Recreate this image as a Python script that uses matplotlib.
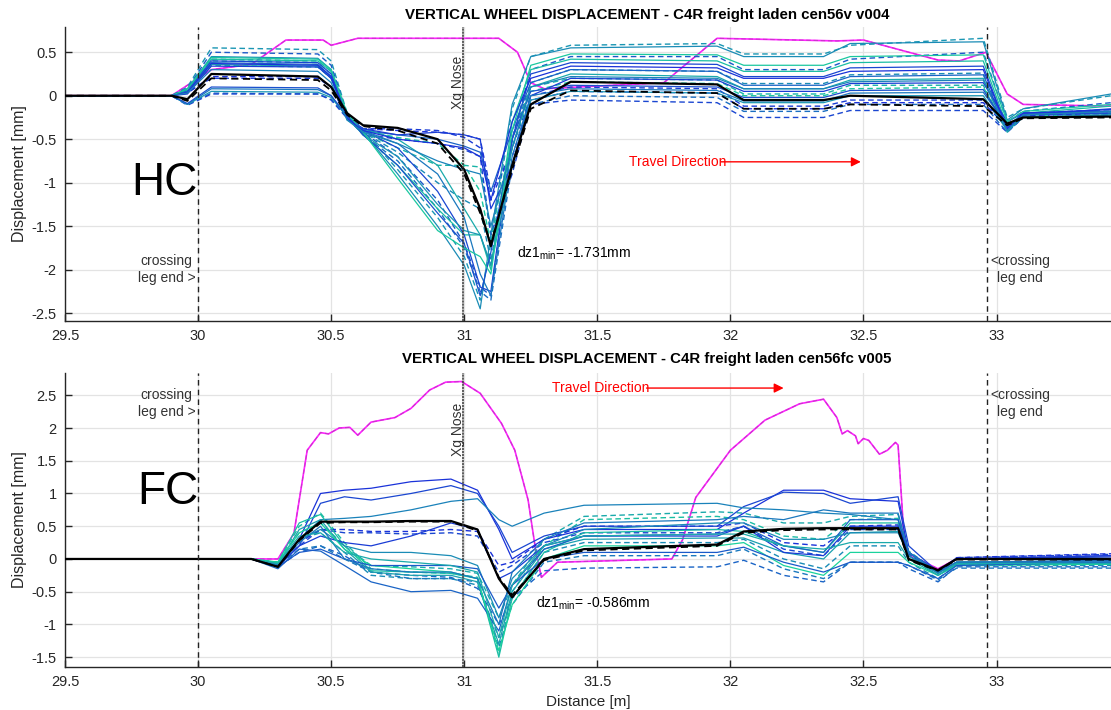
import matplotlib
matplotlib.use('Agg')
import matplotlib.pyplot as plt
from matplotlib.ticker import FuncFormatter

plt.rcParams['font.family'] = ['Liberation Sans', 'DejaVu Sans']
plt.rcParams['axes.unicode_minus'] = False
plt.rcParams['mathtext.fontset'] = 'custom'
plt.rcParams['mathtext.rm'] = 'Liberation Sans'
plt.rcParams['mathtext.it'] = 'Liberation Sans'
plt.rcParams['mathtext.default'] = 'regular'

# ------------------------------------------------------------------ HC panel
X_HC = [29.5, 29.9, 29.96, 30.05, 30.45, 30.5, 30.56, 30.62, 30.75, 30.9, 31.0, 31.06,
        31.1, 31.18, 31.25, 31.4, 31.95, 32.05, 32.35, 32.45, 32.95, 33.04, 33.1, 33.43]

hc_a = [0, 0, .08, .45, .43, .3, -.22, -.42, -.9, -1.5, -1.95, -2.45, -1.6, -.1, .45, .55, .57, .45, .45, .6, .62, -.28, -.15, .02]
hc_b = [0, 0, .06, .42, .40, .28, -.25, -.45, -.8, -1.3, -1.6, -1.6, -2.0, -.3, .3, .42, .40, .28, .28, .38, .40, -.35, -.2, -.12]
hc_c = [0, 0, .05, .40, .38, .25, -.25, -.4, -.6, -1.1, -1.6, -2.2, -2.25, -.5, .25, .38, .36, .22, .22, .32, .34, -.38, -.22, -.15]
hc_d = [0, 0, .05, .38, .36, .22, -.27, -.4, -.45, -.5, -.58, -.65, -1.1, -.4, .15, .3, .28, .12, .12, .22, .24, -.4, -.2, -.18]
hc_e = [0, 0, .04, .36, .34, .2, -.28, -.38, -.5, -.8, -1.3, -1.6, -1.95, -.6, .1, .25, .22, .08, .08, .18, .2, -.42, -.22, -.18]
hc_f = [0, 0, .02, .34, .33, .2, -.25, -.38, -.45, -.42, -.45, -.5, -1.3, -.8, .0, .2, .18, .05, .05, .14, .15, -.3, -.2, -.18]
hc_g = [0, 0, -.1, .08, .07, .0, -.25, -.4, -.55, -.9, -1.4, -2.05, -2.3, -.7, .0, .08, .06, -.06, -.06, .03, .04, -.35, -.25, -.22]
hc_h = [0, 0, -.1, .05, .04, -.02, -.24, -.45, -.7, -1.25, -1.55, -1.6, -1.95, -.8, -.05, .05, .03, -.08, -.08, .0, .0, -.4, -.25, -.22]
hc_i = [0, 0, -.09, .1, .09, .0, -.23, -.45, -.8, -1.35, -1.7, -2.3, -1.8, -.5, .05, .12, .1, -.02, -.02, .06, .07, -.36, -.22, -.2]
hc_j = [0, 0, .08, .44, .42, .3, -.2, -.42, -.95, -1.55, -1.75, -1.85, -2.05, -.4, .35, .48, .47, .35, .35, .45, .47, -.3, -.18, -.1]
hc_k = [0, 0, .04, .37, .35, .22, -.26, -.4, -.5, -.55, -.6, -.7, -1.2, -.3, .2, .34, .32, .2, .2, .28, .3, -.38, -.2, -.16]
hc_l = [0, 0, .03, .3, .28, .15, -.28, -.42, -.55, -.75, -.85, -.9, -1.5, -.6, .1, .22, .2, .08, .08, .16, .18, -.4, -.22, -.18]

hc_da = [0, 0, .1, .55, .53, .4, -.2, -.4, -.85, -1.4, -1.85, -2.35, -1.7, -.15, .45, .58, .6, .48, .48, .58, .66, -.25, -.15, .0]
hc_db = [0, 0, .08, .5, .48, .35, -.22, -.42, -.7, -1.2, -1.7, -2.2, -2.3, -.5, .3, .45, .45, .3, .3, .42, .5, -.3, -.18, -.08]
hc_dc = [0, 0, .04, .2, .2, .1, -.24, -.38, -.38, -.4, -.48, -.6, -1.2, -.6, .0, .1, .08, -.12, -.12, -.05, -.05, -.35, -.22, -.2]
hc_dd = [0, 0, .06, .4, .38, .25, -.25, -.42, -.6, -.8, -.8, -.82, -1.6, -.5, .1, .2, .18, .02, .02, .12, .12, -.4, -.22, -.2]
hc_de = [0, 0, -.1, .03, .02, -.04, -.25, -.45, -.75, -1.3, -1.75, -2.25, -2.35, -.8, -.1, .0, -.02, -.18, -.18, -.1, -.1, -.42, -.25, -.22]
hc_df = [0, 0, -.11, .02, .02, -.05, -.26, -.44, -.5, -.55, -.62, -.7, -1.6, -.9, -.1, -.05, -.08, -.25, -.25, -.17, -.17, -.42, -.25, -.22]
hc_dg = [0, 0, .07, .42, .4, .28, -.22, -.42, -.65, -1.0, -1.2, -1.3, -1.9, -.5, .15, .3, .28, .14, .14, .24, .26, -.38, -.2, -.16]
hc_dh = [0, 0, .05, .35, .33, .2, -.26, -.4, -.48, -.55, -.8, -1.1, -1.7, -.6, .05, .16, .14, .0, .0, .08, .1, -.4, -.24, -.2]
hc_di = [0, 0, .03, .22, .22, .1, -.25, -.38, -.4, -.42, -.45, -.5, -1.1, -.7, -.05, .05, .03, -.15, -.15, -.08, -.08, -.36, -.23, -.2]

hc_black = [0, 0, -.04, .25, .22, .1, -.2, -.34, -.37, -.5, -.85, -1.3, -1.73, -.8, -.1, .16, .13, -.05, -.05, .0, -.04, -.32, -.25, -.24]
hc_black_d = [0, 0, -.06, .2, .18, .06, -.22, -.35, -.4, -.55, -.9, -1.35, -1.7, -.85, -.15, .06, .03, -.15, -.15, -.1, -.12, -.34, -.26, -.25]

hc_mag_x = [29.5, 29.9, 30.05, 30.2, 30.33, 30.47, 30.5, 30.6, 31.13, 31.2, 31.25, 31.3, 31.75,
            31.95, 32.4, 32.5, 32.67, 32.78, 32.86, 32.96, 33.04, 33.1, 33.43]
hc_mag_y = [0, 0, 0.3, 0.36, 0.64, 0.64, 0.58, 0.66, 0.66, 0.5, 0.15, 0.08, 0.15,
            0.66, 0.63, 0.64, 0.5, 0.41, 0.4, 0.5, 0.02, -0.1, -0.12]

HC_SOLID = [hc_a, hc_b, hc_c, hc_d, hc_e, hc_f, hc_g, hc_h, hc_i, hc_j, hc_k, hc_l]
HC_SOLID_C = [.55, .8, .2, .35, .7, .15, .45, .6, .25, .85, .1, .5]
HC_DASH = [hc_da, hc_db, hc_dc, hc_dd, hc_de, hc_df, hc_dg, hc_dh, hc_di]
HC_DASH_C = [.6, .3, .15, .75, .4, .2, .55, .85, .1]

# ------------------------------------------------------------------ FC panel
X_FC = [29.5, 30.2, 30.3, 30.38, 30.46, 30.55, 30.65, 30.8, 30.95, 31.05, 31.13, 31.18,
        31.3, 31.45, 31.95, 32.05, 32.2, 32.35, 32.45, 32.63, 32.67, 32.78, 32.85, 33.43]

fc_p1 = [0, 0, -.1, .3, 1.0, 1.05, 1.08, 1.18, 1.22, 1.05, .45, 0.0, .3, .45, .45, .7, 1.05, 1.05, .92, .88, .1, -.18, 0.0, .05]
fc_p2 = [0, 0, -.12, .2, .85, .95, .9, 1.0, 1.12, 1.0, .5, .1, .35, .5, .5, .8, 1.02, 1.0, .85, .95, .2, -.2, 0.0, .03]
fc_p3 = [0, 0, -.08, .3, .6, .62, .65, .75, .88, .92, .6, .5, .7, .82, .85, .78, .75, .7, .68, .6, .1, -.2, -.05, -.02]
fc_p4 = [0, 0, -.05, .55, .68, .2, -.18, -.2, -.22, -.3, -1.5, -.6, .1, .4, .45, .42, .2, .1, .55, .55, .1, -.22, -.05, -.05]
fc_p5 = [0, 0, -.08, .45, .6, .15, -.2, -.25, -.25, -.35, -1.3, -.5, .15, .3, .32, .32, .1, 0.0, .4, .42, .05, -.25, -.08, -.08]
fc_p6 = [0, 0, -.15, .15, .12, -.1, -.35, -.5, -.48, -.6, -1.1, -.4, .15, .35, .38, .5, .2, .1, .6, .6, .05, -.2, -.05, -.03]
fc_p7 = [0, 0, -.1, .2, .35, .25, .2, .35, .55, .45, -.3, -.2, .2, .35, .35, .5, .1, .05, .5, .5, .1, -.2, 0.0, .05]
fc_p8 = [0, 0, -.1, .3, .45, .2, .1, .1, .05, -.1, -.9, -.3, .2, .45, .55, .55, .3, .3, .4, .4, .05, -.22, -.05, -.05]
fc_p9 = [0, 0, -.05, .4, .55, .15, -.1, -.15, -.2, -.3, -1.4, -.7, 0.0, .2, .2, .25, -.1, -.25, .1, .1, -.05, -.25, -.1, -.08]
fc_p10 = [0, 0, -.12, .1, .15, .0, -.1, -.1, -.1, -.15, -.75, -.4, .0, .1, .1, .18, -.05, -.2, -.05, -.05, -.1, -.3, -.1, -.05]
fc_p11 = [0, 0, -.1, .25, .5, .0, -.15, -.2, -.2, -.3, -1.0, -.2, .3, .55, .6, .65, .6, .75, .7, .7, .1, -.2, -.05, -.05]
fc_p12 = [0, 0, -.07, .35, .4, .1, .0, -.05, -.1, -.2, -1.2, -.4, .2, .35, .38, .38, .2, .15, .25, .25, 0, -.25, -.07, -.07]

fc_q1 = [0, 0, -.05, .5, .7, .25, -.15, -.2, -.22, -.28, -1.45, -.5, .2, .6, .65, .6, .35, .3, .6, .62, .1, -.22, -.08, -.08]
fc_q2 = [0, 0, -.1, .2, .45, .4, .4, .38, .4, .35, -.2, -.1, .25, .4, .4, .5, .15, .05, .45, .45, .08, -.22, .02, .07]
fc_q3 = [0, 0, -.08, .3, .4, .1, -.25, -.3, -.3, -.4, -1.2, -.6, .1, .25, .25, .3, .0, -.15, .2, .2, -.05, -.3, -.1, -.1]
fc_q4 = [0, 0, -.12, .1, .2, .05, -.2, -.25, -.28, -.45, -1.0, -.6, -.18, -.14, -.12, -.02, -.25, -.35, -.05, -.05, -.15, -.35, -.12, -.12]
fc_q5 = [0, 0, -.1, .25, .45, .45, .42, .42, .45, .42, -.1, -.05, .3, .5, .5, .55, .25, .2, .5, .52, .1, -.2, .02, .08]
fc_q6 = [0, 0, -.05, .4, .55, .2, -.1, -.12, -.15, -.22, -.9, -.4, .3, .65, .72, .7, .55, .55, .65, .68, .12, -.2, -.06, -.06]
fc_q7 = [0, 0, -.1, .15, .2, .0, -.2, -.3, -.3, -.35, -1.35, -.7, -.05, .05, .05, .15, -.15, -.3, -.05, -.05, -.1, -.32, -.14, -.14]

fc_black = [0, 0, -.12, .3, .57, .57, .57, .58, .58, .45, -.3, -.586, .0, .15, .22, .42, .46, .47, .47, .47, .0, -.17, 0.0, 0.0]
fc_black_d = [0, 0, -.12, .28, .55, .56, .56, .57, .57, .43, -.28, -.55, -.02, .13, .2, .4, .44, .45, .45, .45, -.02, -.18, -.01, -.01]

fc_mag_x = [29.5, 30.3, 30.36, 30.41, 30.46, 30.49, 30.53, 30.57, 30.6, 30.65, 30.74, 30.8,
            30.87, 30.93, 30.99, 31.06, 31.14, 31.19, 31.24, 31.27, 31.29, 31.35, 31.78,
            31.82, 31.87, 32.0, 32.13, 32.26, 32.35, 32.4, 32.42, 32.44, 32.47, 32.48,
            32.5, 32.52, 32.56, 32.59, 32.62, 32.63, 32.65, 32.66, 32.78, 32.85, 33.43]
fc_mag_y = [0, 0, 0.39, 1.66, 1.93, 1.91, 2.0, 2.01, 1.89, 2.09, 2.16, 2.3,
            2.58, 2.7, 2.71, 2.53, 2.07, 1.66, 0.9, 0.09, -0.28, -0.05, 0.0,
            0.29, 0.94, 1.66, 2.12, 2.37, 2.44, 2.16, 1.91, 1.96, 1.88, 1.76,
            1.84, 1.81, 1.6, 1.66, 1.78, 1.74, 0.48, 0.09, -0.15, 0.0, 0.0]

FC_SOLID = [fc_p1, fc_p2, fc_p3, fc_p4, fc_p5, fc_p6, fc_p7, fc_p8, fc_p9, fc_p10, fc_p11, fc_p12]
FC_SOLID_C = [.1, .2, .5, .8, .65, .35, .15, .55, .9, .3, .45, .7]
FC_DASH = [fc_q1, fc_q2, fc_q3, fc_q4, fc_q5, fc_q6, fc_q7]
FC_DASH_C = [.8, .2, .55, .35, .1, .7, .45]

XTICKS = [29.5, 30, 30.5, 31, 31.5, 32, 32.5, 33]
HC_YTICKS = [-2.5, -2, -1.5, -1, -0.5, 0, 0.5]
FC_YTICKS = [-1.5, -1, -0.5, 0, 0.5, 1, 1.5, 2, 2.5]


def winter(c):
    return (0.1, 0.12 + 0.78 * c, 0.88 - 0.3 * c)


fig = plt.figure(figsize=(11.11, 7.10), dpi=100)
ax1 = fig.add_axes([65 / 1111, 1 - 321 / 710, 1 - 65 / 1111, 294 / 710])
ax2 = fig.add_axes([65 / 1111, 1 - 667 / 710, 1 - 65 / 1111, 294 / 710])

DASH = (0, (4, 2.5))
fmt = FuncFormatter(lambda v, p: '%g' % v)


def draw(ax, X, solid, solid_c, dash, dash_c, black, black_d, mx, my):
    ax.plot(mx, my, color='#ff22ff', lw=1.2, zorder=2)
    ax.plot(mx, my, color='#cc33cc', lw=0.8, ls=DASH, zorder=2)
    for ys, c in zip(dash, dash_c):
        ax.plot(X, ys, color=winter(c), lw=1.0, ls=DASH, zorder=3)
    for ys, c in zip(solid, solid_c):
        ax.plot(X, ys, color=winter(c), lw=0.9, zorder=3)
    ax.plot(X, black_d, color='black', lw=1.3, ls=DASH, zorder=4)
    ax.plot(X, black, color='black', lw=1.6, zorder=5)


draw(ax1, X_HC, HC_SOLID, HC_SOLID_C, HC_DASH, HC_DASH_C, hc_black, hc_black_d, hc_mag_x, hc_mag_y)
draw(ax2, X_FC, FC_SOLID, FC_SOLID_C, FC_DASH, FC_DASH_C, fc_black, fc_black_d, fc_mag_x, fc_mag_y)

for ax, ylim, yt in [(ax1, (-2.59, 0.79), HC_YTICKS), (ax2, (-1.65, 2.84), FC_YTICKS)]:
    ax.set_xlim(29.5, 33.43)
    ax.set_ylim(*ylim)
    ax.set_xticks(XTICKS)
    ax.set_yticks(yt)
    ax.xaxis.set_major_formatter(fmt)
    ax.yaxis.set_major_formatter(fmt)
    ax.grid(True, color='#e3e3e3', lw=0.9, zorder=0)
    ax.set_axisbelow(True)
    for s in ['top', 'right']:
        ax.spines[s].set_visible(False)
    for s in ['left', 'bottom']:
        ax.spines[s].set_color('#262626')
        ax.spines[s].set_linewidth(1.0)
    ax.tick_params(direction='in', length=5, width=1, labelsize=10.5, colors='#262626', pad=6)
    ax.set_ylabel('Displacement [mm]', fontsize=11.5, color='#262626', labelpad=3)
    ax.axvline(30.0, color='#222222', lw=1.0, ls=(0, (4, 3)), zorder=6)
    ax.axvline(30.995, color='#333333', lw=1.1, ls=(0, (1.5, 0.5)), zorder=6)
    ax.axvline(32.965, color='#222222', lw=1.0, ls=(0, (4, 3)), zorder=6)

ax2.set_xlabel('Distance [m]', fontsize=11, color='#262626', labelpad=4)

fig.text(647 / 1111, 1 - 15 / 710, 'VERTICAL WHEEL DISPLACEMENT - C4R freight laden cen56v v004',
         ha='center', va='center', fontsize=10.8, fontweight='bold')
fig.text(647 / 1111, 1 - 359 / 710, 'VERTICAL WHEEL DISPLACEMENT - C4R freight laden cen56fc v005',
         ha='center', va='center', fontsize=10.8, fontweight='bold')

tk = dict(fontsize=10, color='#333333', zorder=7)
# top annotations
ax1.text(29.99, -2.0, 'crossing\nleg end >', ha='right', va='center', multialignment='center',
         linespacing=1.3, **tk)
ax1.text(32.975, -2.0, '<crossing\nleg end', ha='left', va='center', multialignment='center',
         linespacing=1.3, **tk)
ax1.text(30.975, 0.15, 'Xg Nose', rotation=90, ha='center', va='center', **tk)
ax1.text(30.0, -1.0, 'HC', ha='right', va='center', fontsize=33, zorder=7)
ax1.text(31.2, -1.81, r'dz1$_{min}$= -1.731mm', ha='left', va='center', fontsize=10, zorder=7)
ax1.text(31.62, -0.76, 'Travel Direction', color='red', ha='left', va='center', fontsize=10, zorder=7)
ax1.annotate('', xy=(32.49, -0.76), xytext=(31.965, -0.76),
             arrowprops=dict(arrowstyle='-|>', color='red', lw=1.0, mutation_scale=14,
                             shrinkA=0, shrinkB=0), zorder=7)

# bottom annotations
ax2.text(29.99, 2.37, 'crossing\nleg end >', ha='right', va='center', multialignment='center',
         linespacing=1.3, **tk)
ax2.text(32.975, 2.37, '<crossing\nleg end', ha='left', va='center', multialignment='center',
         linespacing=1.3, **tk)
ax2.text(30.975, 1.98, 'Xg Nose', rotation=90, ha='center', va='center', **tk)
ax2.text(30.0, 1.02, 'FC', ha='right', va='center', fontsize=33, zorder=7)
ax2.text(31.27, -0.68, r'dz1$_{min}$= -0.586mm', ha='left', va='center', fontsize=10, zorder=7)
ax2.text(31.33, 2.61, 'Travel Direction', color='red', ha='left', va='center', fontsize=10, zorder=7)
ax2.annotate('', xy=(32.2, 2.61), xytext=(31.685, 2.61),
             arrowprops=dict(arrowstyle='-|>', color='red', lw=1.0, mutation_scale=14,
                             shrinkA=0, shrinkB=0), zorder=7)

fig.savefig('out.png', dpi=100)
